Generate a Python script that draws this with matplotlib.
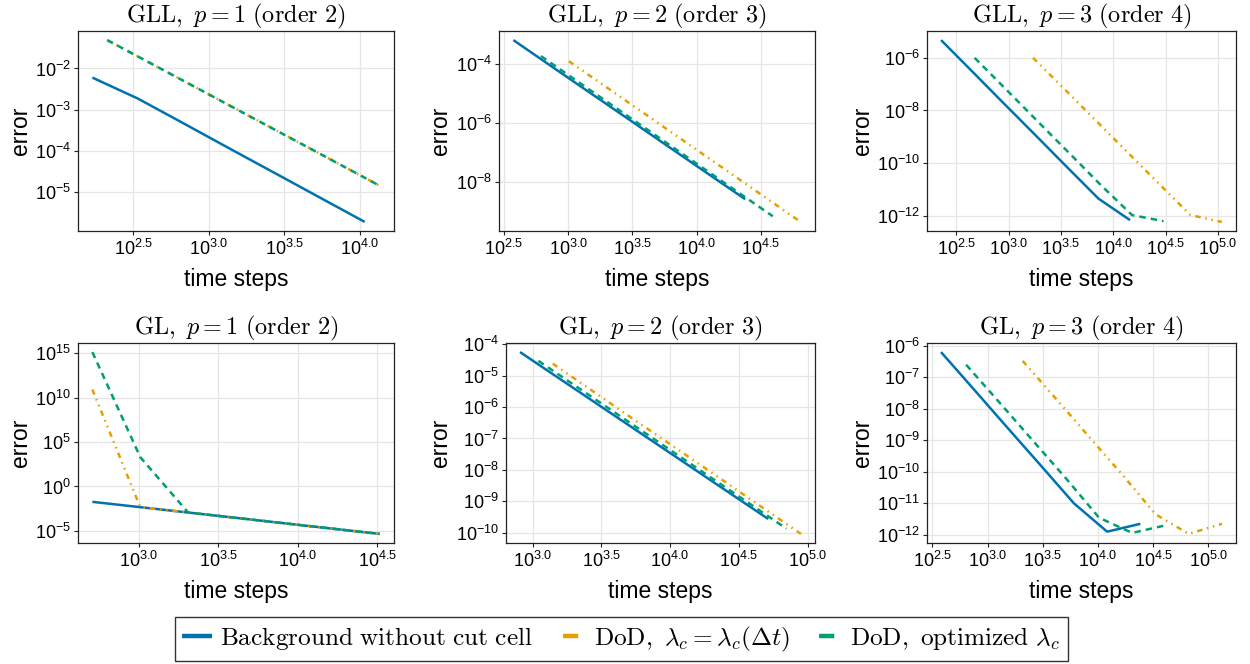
import matplotlib
matplotlib.use("Agg")
import matplotlib.pyplot as plt
from matplotlib.lines import Line2D
import numpy as np

plt.rcParams["font.family"] = ["Liberation Sans", "DejaVu Sans"]
plt.rcParams["mathtext.fontset"] = "cm"

BLUE = "#0072B2"
ORANGE = "#E69F00"
GREEN = "#009E73"

# ---- data: time steps and errors per panel ----
# GLL, p=1
gll1_bg_x = [169, 338, 675, 1350, 2700, 5400, 10800]
gll1_bg_y = [6.0e-3, 1.86e-3, 4.7e-4, 1.17e-4, 2.95e-5, 7.4e-6, 1.86e-6]
gll1_dod_x = [212, 424, 848, 1696, 3392, 6784, 13568]
gll1_dod_y = [4.9e-2, 1.26e-2, 3.24e-3, 8.3e-4, 2.14e-4, 5.5e-5, 1.41e-5]
gll1_opt_x = [212, 424, 848, 1696, 3392, 6784, 13568]
gll1_opt_y = [4.9e-2, 1.26e-2, 3.24e-3, 8.3e-4, 2.14e-4, 5.5e-5, 1.41e-5]

# GLL, p=2
gll2_bg_x = [374, 748, 1496, 2992, 5984, 11968, 23936]
gll2_bg_y = [6.2e-4, 7.8e-5, 9.9e-6, 1.26e-6, 1.59e-7, 2.02e-8, 2.57e-9]
gll2_dod_x = [1012, 2024, 4048, 8096, 16192, 32384, 64768]
gll2_dod_y = [1.20e-4, 1.49e-5, 1.85e-6, 2.29e-7, 2.84e-8, 3.52e-9, 4.37e-10]
gll2_opt_x = [614, 1228, 2456, 4912, 9824, 19648, 39296]
gll2_opt_y = [1.78e-4, 2.22e-5, 2.78e-6, 3.48e-7, 4.35e-8, 5.43e-9, 6.8e-10]

# GLL, p=3
gll3_bg_x = [226, 452, 904, 1808, 3616, 7232, 14464]
gll3_bg_y = [4.7e-6, 2.95e-7, 1.82e-8, 1.15e-9, 7.1e-11, 4.5e-12, 6.9e-13]
gll3_dod_x = [1710, 3420, 6840, 13680, 27360, 54720, 109440]
gll3_dod_y = [1.0e-6, 6.5e-8, 4.1e-9, 2.6e-10, 1.66e-11, 1.07e-12, 5.9e-13]
gll3_opt_x = [473, 946, 1892, 3784, 7568, 15136, 30272]
gll3_opt_y = [1.0e-6, 6.3e-8, 3.9e-9, 2.45e-10, 1.51e-11, 1.07e-12, 6.3e-13]

# GL, p=1
gl1_bg_x = [510, 1020, 2040, 4080, 8160, 16320, 32640]
gl1_bg_y = [1.86e-2, 4.7e-3, 1.17e-3, 2.95e-4, 7.3e-5, 1.83e-5, 4.6e-6]
gl1_dod_x = [510, 1020, 2040, 4080, 8160, 16320, 32640]
gl1_dod_y = [8.0e10, 4.7e-3, 1.17e-3, 2.95e-4, 7.3e-5, 1.83e-5, 4.6e-6]
gl1_opt_x = [510, 1020, 2040, 4080, 8160, 16320, 32640]
gl1_opt_y = [1.3e15, 2.0e3, 1.17e-3, 2.95e-4, 7.3e-5, 1.83e-5, 4.6e-6]

# GL, p=2
gl2_bg_x = [809, 1618, 3236, 6472, 12944, 25888, 51776]
gl2_bg_y = [5.6e-5, 7.3e-6, 9.5e-7, 1.24e-7, 1.62e-8, 2.11e-9, 2.75e-10]
gl2_dod_x = [1400, 2800, 5600, 11200, 22400, 44800, 89600]
gl2_dod_y = [2.4e-5, 3.0e-6, 3.7e-7, 4.7e-8, 5.9e-9, 7.3e-10, 9.2e-11]
gl2_opt_x = [1100, 2200, 4400, 8800, 17600, 35200, 70400]
gl2_opt_y = [2.95e-5, 3.8e-6, 4.9e-7, 6.3e-8, 8.1e-9, 1.05e-9, 1.35e-10]

# GL, p=3
gl3_bg_x = [378, 756, 1512, 3024, 6048, 12096, 24192]
gl3_bg_y = [6.3e-7, 4.0e-8, 2.5e-9, 1.6e-10, 1.0e-11, 1.26e-12, 2.24e-12]
gl3_dod_x = [2075, 4150, 8300, 16600, 33200, 66400, 132800]
gl3_dod_y = [3.3e-7, 2.1e-8, 1.29e-9, 8.1e-11, 4.5e-12, 1.07e-12, 2.24e-12]
gl3_opt_x = [638, 1276, 2552, 5104, 10208, 20416, 40832]
gl3_opt_y = [2.5e-7, 1.6e-8, 1.0e-9, 6.3e-11, 3.5e-12, 1.15e-12, 2.0e-12]

titles = [r"$\mathrm{GLL,}\ p = 1\ \mathrm{(order\ 2)}$",
          r"$\mathrm{GLL,}\ p = 2\ \mathrm{(order\ 3)}$",
          r"$\mathrm{GLL,}\ p = 3\ \mathrm{(order\ 4)}$",
          r"$\mathrm{GL,}\ p = 1\ \mathrm{(order\ 2)}$",
          r"$\mathrm{GL,}\ p = 2\ \mathrm{(order\ 3)}$",
          r"$\mathrm{GL,}\ p = 3\ \mathrm{(order\ 4)}$"]

xtick_exps = [[2.5, 3.0, 3.5, 4.0],
              [2.5, 3.0, 3.5, 4.0, 4.5],
              [2.5, 3.0, 3.5, 4.0, 4.5, 5.0],
              [3.0, 3.5, 4.0, 4.5],
              [3.0, 3.5, 4.0, 4.5, 5.0],
              [2.5, 3.0, 3.5, 4.0, 4.5, 5.0]]
ytick_exps = [[-5, -4, -3, -2],
              [-8, -6, -4],
              [-12, -10, -8, -6],
              [-5, 0, 5, 10, 15],
              [-10, -9, -8, -7, -6, -5, -4],
              [-12, -11, -10, -9, -8, -7, -6]]

panels = [
    (gll1_bg_x, gll1_bg_y, gll1_dod_x, gll1_dod_y, gll1_opt_x, gll1_opt_y),
    (gll2_bg_x, gll2_bg_y, gll2_dod_x, gll2_dod_y, gll2_opt_x, gll2_opt_y),
    (gll3_bg_x, gll3_bg_y, gll3_dod_x, gll3_dod_y, gll3_opt_x, gll3_opt_y),
    (gl1_bg_x, gl1_bg_y, gl1_dod_x, gl1_dod_y, gl1_opt_x, gl1_opt_y),
    (gl2_bg_x, gl2_bg_y, gl2_dod_x, gl2_dod_y, gl2_opt_x, gl2_opt_y),
    (gl3_bg_x, gl3_bg_y, gl3_dod_x, gl3_dod_y, gl3_opt_x, gl3_opt_y),
]

# axes boxes in pixels: left, right, top, bottom
W, H = 1250, 664
boxes = [(78, 394, 31, 231), (499, 815, 31, 231), (927, 1236, 31, 231),
         (78, 394, 343, 543), (506, 815, 343, 543), (927, 1236, 343, 543)]
ylabel_px = [32, 452, 874]

fig = plt.figure(figsize=(W / 100, H / 100), dpi=100)

lw = 1.8
dash_orange = (0, (2.2, 1.9, 0.6, 1.9, 0.6, 1.9))
dash_green = (0, (2.6, 2.0))

for i, (box, data) in enumerate(zip(boxes, panels)):
    l, r, t, b = box
    ax = fig.add_axes([l / W, (H - b) / H, (r - l) / W, (b - t) / H])
    bx, by, dx, dy, ox, oy = data
    ax.plot(bx, by, color=BLUE, lw=lw, solid_capstyle="butt")
    ax.plot(dx, dy, color=ORANGE, lw=lw, linestyle=dash_orange, dash_capstyle="butt")
    ax.plot(ox, oy, color=GREEN, lw=lw, linestyle=dash_green, dash_capstyle="butt")
    ax.set_xscale("log")
    ax.set_yscale("log")
    ax.set_xticks([10 ** e for e in xtick_exps[i]])
    ax.set_xticklabels([r"$\mathdefault{10^{%.1f}}$" % e for e in xtick_exps[i]])
    ax.set_yticks([10.0 ** e for e in ytick_exps[i]])
    ax.set_yticklabels([r"$\mathdefault{10^{%d}}$" % e for e in ytick_exps[i]])
    ax.minorticks_off()
    ax.grid(True, color="#e6e6e6", lw=0.9)
    ax.set_axisbelow(True)
    for s in ax.spines.values():
        s.set_color("#222222")
        s.set_linewidth(0.9)
    ax.tick_params(labelsize=13, length=3, width=0.8, color="#222222", pad=2)
    ax.tick_params(axis="x", pad=3)
    ax.set_title(titles[i], fontsize=17.5, pad=3)
    ax.set_xlabel("time steps", fontsize=16.5)
    ax.set_ylabel("error", fontsize=16.5)
    ax.yaxis.set_label_coords((ylabel_px[i % 3] - l) / (r - l), 0.5)
    ax.xaxis.set_label_coords(0.5, -0.185)

handles = [
    Line2D([], [], color=BLUE, lw=3.2, solid_capstyle="butt"),
    Line2D([], [], color=ORANGE, lw=3.2, linestyle=(0, (0, 1.6, 3.4, 40)), dash_capstyle="butt"),
    Line2D([], [], color=GREEN, lw=3.2, linestyle=(0, (0, 1.6, 3.4, 40)), dash_capstyle="butt"),
]
labels = [r"$\mathrm{Background\ without\ cut\ cell}$",
          r"$\mathrm{DoD,}\ \lambda_c = \lambda_c(\Delta t)$",
          r"$\mathrm{DoD,\ optimized}\ \lambda_c$"]
leg = fig.legend(handles, labels, loc="lower center", bbox_to_anchor=(0.497, 0.0),
                 ncol=3, fontsize=18.2, frameon=True, fancybox=False,
                 handlelength=1.15, handletextpad=0.35, columnspacing=0.9,
                 borderpad=0.3, borderaxespad=0.1)
leg.get_frame().set_edgecolor("black")
leg.get_frame().set_linewidth(1.0)

fig.savefig("out.png", dpi=100)
